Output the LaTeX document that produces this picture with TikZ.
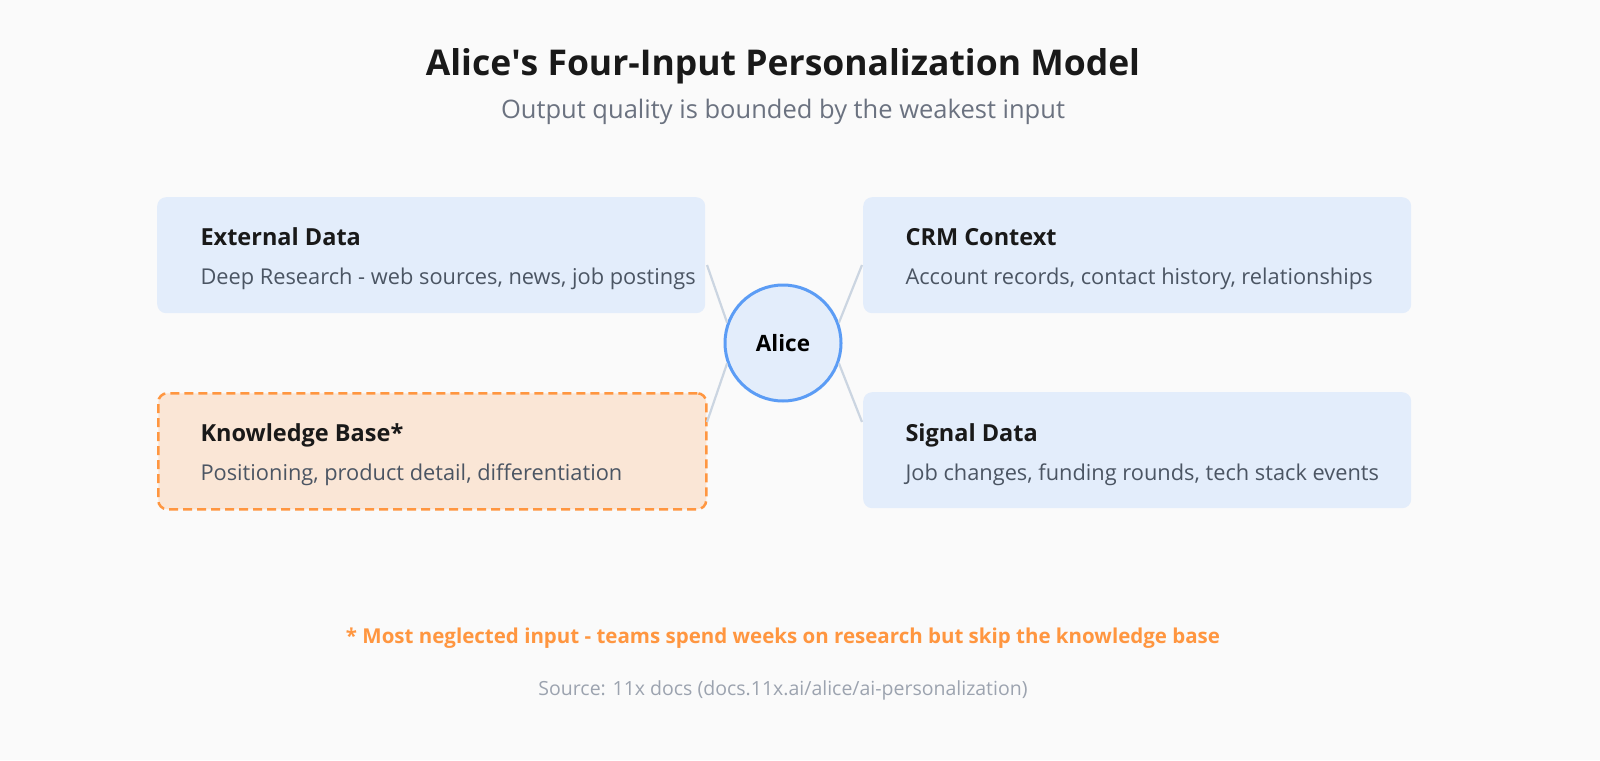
\documentclass[tikz,border=0pt]{standalone}
\usepackage{fontspec}
\setmainfont{Open Sans}
\definecolor{bg}{HTML}{FAFAFA}
\definecolor{boxb}{HTML}{E3EDFB}
\definecolor{boxo}{HTML}{FAE6D6}
\definecolor{orng}{HTML}{FF9640}
\definecolor{blu}{HTML}{5B9CF5}
\definecolor{conn}{HTML}{CBD5E1}
\definecolor{dsc}{HTML}{4B5563}
\definecolor{sub}{HTML}{6B7280}
\definecolor{src}{HTML}{9CA3AF}
\begin{document}
\begin{tikzpicture}[x=1pt,y=-1pt,
  card/.style={rounded corners=9pt,fill=boxb,minimum width=548pt,minimum height=116pt,inner sep=0pt},
  ttl/.style={anchor=base west,font=\fontsize{23.5}{27}\selectfont\bfseries,text=black!90},
  dsc/.style={anchor=base west,font=\fontsize{21.8}{25}\selectfont,text=dsc},
  con/.style={draw=conn,line width=2.2pt}]
\fill[bg] (0,0) rectangle (1600,760);
\node[font=\fontsize{35.5}{40}\selectfont\bfseries,text=black!90] (title) at (783,66) {Alice\textquotesingle s Four-Input Personalization Model};
\node[font=\fontsize{25.5}{29}\selectfont,text=sub] (subt) at (783,112) {Output quality is bounded by the weakest input};
\node[card,anchor=north west] (ext) at (157,197) {};
\node[card,anchor=north west] (crm) at (863,197) {};
\node[card,anchor=north west,fill=boxo,draw=orng,line width=2.5pt,dash pattern=on 9pt off 5pt] (kb) at (157,392) {};
\node[card,anchor=north west] (sig) at (863,392) {};
\node[ttl] (t1) at (197,245) {External Data};
\node[dsc] (d1) at (197,284) {Deep Research - web sources, news, job postings};
\node[ttl] (t2) at (902,245) {CRM Context};
\node[dsc] (d2) at (902,284) {Account records, contact history, relationships};
\node[ttl] (t3) at (197,441) {Knowledge Base*};
\node[dsc] (d3) at (197,480) {Positioning, product detail, differentiation};
\node[ttl] (t4) at (902,441) {Signal Data};
\node[dsc] (d4) at (902,480) {Job changes, funding rounds, tech stack events};
\node[circle,minimum size=116pt,fill=boxb,draw=blu,line width=3pt,font=\fontsize{22.5}{26}\selectfont\bfseries] (alice) at (783,343) {Alice};
\coordinate (c1) at (707,265); \coordinate (c2) at (862,265);
\coordinate (c3) at (707,422); \coordinate (c4) at (862,422);
\draw[con] (c1) -- (alice.160);
\draw[con] (c2) -- (alice.20);
\draw[con] (c3) -- (alice.200);
\draw[con] (c4) -- (alice.-20);
\node[font=\fontsize{20.5}{24}\selectfont\bfseries,text=orng] (note) at (783,638) {* Most neglected input - teams spend weeks on research but skip the knowledge base};
\node[font=\fontsize{19.5}{23}\selectfont,text=src] (source) at (783,690) {Source: 11x docs (docs.11x.ai/alice/ai-personalization)};
\pgfresetboundingbox
\useasboundingbox (0,0) rectangle (1600,760);
\end{tikzpicture}
\end{document}
